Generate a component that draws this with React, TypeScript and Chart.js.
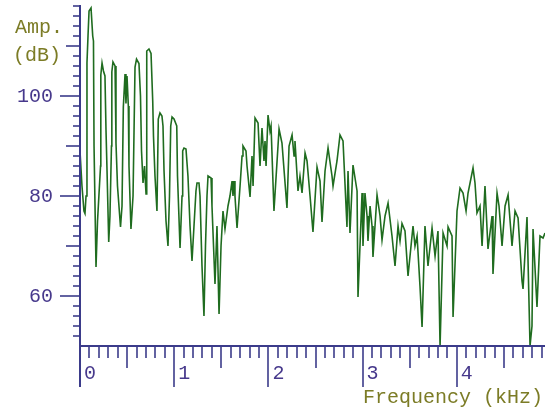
import React, { useEffect, useRef } from "react";
import { Chart, registerables } from "chart.js";

Chart.register(...registerables);

// Frequency (kHz) of each spectrum vertex
const freqKHz = [
  0, 0.021, 0.042, 0.053, 0.064, 0.074, 0.085, 0.096, 0.117, 0.135, 0.143, 0.149, 0.17, 0.186,
  0.218, 0.221, 0.234, 0.249, 0.265, 0.276, 0.287, 0.305, 0.318, 0.334, 0.338, 0.35, 0.372,
  0.382, 0.398, 0.43, 0.446, 0.46, 0.478, 0.488, 0.499, 0.513, 0.52, 0.541, 0.563, 0.584,
  0.6, 0.626, 0.642, 0.653, 0.669, 0.685, 0.701, 0.706, 0.711, 0.732, 0.754, 0.772, 0.78,
  0.796, 0.817, 0.831, 0.849, 0.87, 0.881, 0.892, 0.913, 0.934, 0.95, 0.963, 0.977, 0.998,
  1.027, 1.035, 1.062, 1.083, 1.09, 1.104, 1.125, 1.146, 1.168, 1.189, 1.21, 1.231, 1.242,
  1.263, 1.274, 1.295, 1.316, 1.332, 1.348, 1.359, 1.391, 1.401, 1.433, 1.454, 1.476, 1.497,
  1.518, 1.539, 1.571, 1.592, 1.614, 1.624, 1.635, 1.645, 1.667, 1.699, 1.72, 1.73, 1.762,
  1.773, 1.805, 1.826, 1.837, 1.858, 1.89, 1.911, 1.932, 1.953, 1.964, 1.975, 1.996, 2.017,
  2.028, 2.059, 2.113, 2.144, 2.197, 2.219, 2.251, 2.272, 2.282, 2.314, 2.335, 2.357, 2.389,
  2.41, 2.442, 2.473, 2.516, 2.548, 2.569, 2.601, 2.633, 2.675, 2.686, 2.728, 2.76, 2.792,
  2.834, 2.845, 2.866, 2.898, 2.941, 2.951, 2.994, 3.004, 3.025, 3.047, 3.057, 3.079, 3.1,
  3.11, 3.153, 3.185, 3.206, 3.238, 3.27, 3.312, 3.344, 3.376, 3.397, 3.418, 3.45, 3.482,
  3.535, 3.556, 3.578, 3.609, 3.631, 3.662, 3.694, 3.737, 3.769, 3.8, 3.822, 3.854, 3.896,
  3.907, 3.949, 3.96, 4.002, 4.034, 4.066, 4.098, 4.119, 4.172, 4.193, 4.214, 4.246, 4.268,
  4.299, 4.331, 4.374, 4.384, 4.427, 4.448, 4.48, 4.512, 4.544, 4.586, 4.618, 4.65, 4.692,
  4.703, 4.745, 4.777, 4.798, 4.809, 4.851, 4.883, 4.915, 4.936,
];

// Amplitude (dB) at each vertex
const ampDb = [
  89, 82, 77, 76.5, 80, 106.6, 112, 117, 117.6, 112, 111, 90, 65.8, 75,
  86, 104.2, 106.6, 105, 104, 93.2, 85, 70.8, 76, 90, 104.8, 106.8, 106,
  90.6, 82, 73.8, 78, 97.8, 104.4, 98.5, 104, 98, 86, 73.4, 80, 105.8,
  107.4, 106.5, 100, 89, 82.6, 86, 80.4, 96, 109, 109.4, 108.5, 99, 92,
  84, 77, 95.4, 96.6, 96, 94, 85, 75, 70, 80, 94, 95.8,
  95.4, 94, 84, 69.6, 80, 89, 89.6, 89.4, 84, 74, 67, 74, 81,
  82.6, 82.6, 80, 66, 56, 70, 80, 84, 83.6, 78, 62.4, 74, 56.4,
  70, 77, 73.4, 78, 80, 83, 80, 83, 80, 73.6, 82, 88, 90,
  89, 86, 79.8, 88, 82, 95.6, 94.6, 86, 93.6, 87, 91, 86, 96.2, 93,
  94, 77, 93.4, 90.6, 77.6, 90, 92.2, 88, 91, 81, 84, 80.6, 88.6,
  87, 80, 72.8, 85.8, 83, 74.8, 85, 89.6, 84, 82, 87, 92.2, 91,
  73.8, 85, 72.6, 86.2, 81, 59.8, 80.6, 70, 80.6, 76, 71, 78, 74,
  67.8, 80.2, 76, 71.2, 76, 78.6, 72, 66, 74, 71, 74.5, 73, 64,
  74, 70, 72, 62, 53.8, 74, 66, 73.6, 68, 73, 50, 72.6, 70,
  73.8, 72, 55.8, 77, 81.6, 80.6, 77, 80.6, 85.6, 82.6, 76.6, 78, 70,
  82, 69.4, 76, 64.4, 80.6, 78, 70, 78, 80.2, 70, 77, 75.6, 63,
  61.4, 75.8, 50, 54, 73.4, 57.8, 72, 71.6, 72.6,
];

const xRange = [0, 4.936];
const yRange = [50, 118.2];
const xMajorTicks = [0, 1, 2, 3, 4];
const xTickLabels = ["0", "1", "2", "3", "4"];
const yMajorTicks = [60, 80, 100];
const yTickLabels = ["60", "80", "100"];
const yAxisTitle = ["Amp.", "(dB)"];
const xAxisTitle = "Frequency (kHz)";

const AXIS_COLOR = "#3b3b8a";
const LABEL_COLOR = "#47398c";
const TITLE_COLOR = "#7c7c26";
const LINE_COLOR = "#1f6c1f";
const FONT = "20px 'Liberation Mono', 'DejaVu Sans Mono', monospace";

const axesPlugin = {
  id: "spectrumAxes",
  afterDraw(chart: any) {
    const { ctx, chartArea } = chart;
    const xs = chart.scales.x;
    const ys = chart.scales.y;
    const x0 = Math.round(xs.getPixelForValue(xRange[0]));
    const yb = Math.round(ys.getPixelForValue(yRange[0]));
    ctx.save();
    ctx.strokeStyle = AXIS_COLOR;
    ctx.lineCap = "butt";

    // y minor / medium / major ticks
    ctx.lineWidth = 1.6;
    for (let v = yRange[0] + 2; v <= yRange[1]; v += 2) {
      const y = Math.round(ys.getPixelForValue(v));
      const len = v % 20 === 0 ? 20 : v % 10 === 0 ? 14 : 7;
      ctx.beginPath();
      ctx.moveTo(x0 - len, y);
      ctx.lineTo(x0, y);
      ctx.stroke();
    }
    // x minor / medium / major ticks
    for (let i = 1; i / 10 <= xRange[1]; i++) {
      const x = Math.round(xs.getPixelForValue(i / 10));
      const len = i % 10 === 0 ? 41 : i % 5 === 0 ? 22 : 12;
      ctx.beginPath();
      ctx.moveTo(x, yb);
      ctx.lineTo(x, yb + len);
      ctx.stroke();
    }

    // axis lines
    ctx.lineWidth = 2;
    ctx.beginPath();
    ctx.moveTo(x0, chartArea.top);
    ctx.lineTo(x0, yb + 41);
    ctx.stroke();
    ctx.beginPath();
    ctx.moveTo(x0, yb);
    ctx.lineTo(chartArea.right, yb);
    ctx.stroke();

    // tick labels
    ctx.font = FONT;
    ctx.fillStyle = LABEL_COLOR;
    ctx.textBaseline = "middle";
    ctx.textAlign = "right";
    yMajorTicks.forEach((v, i) => {
      ctx.fillText(yTickLabels[i], x0 - 27, ys.getPixelForValue(v) + 1);
    });
    ctx.textAlign = "left";
    xMajorTicks.forEach((v, i) => {
      ctx.fillText(xTickLabels[i], xs.getPixelForValue(v) + 4, yb + 28);
    });

    // axis titles
    ctx.fillStyle = TITLE_COLOR;
    ctx.textAlign = "right";
    ctx.fillText(yAxisTitle[0], x0 - 17, 28);
    ctx.fillText(yAxisTitle[1], x0 - 19, 56);
    ctx.fillText(xAxisTitle, chartArea.right - 2, yb + 52);
    ctx.restore();
  },
};

export default function App() {
  const canvasRef = useRef<HTMLCanvasElement | null>(null);

  useEffect(() => {
    if (!canvasRef.current) return;
    const chart = new Chart(canvasRef.current, {
      type: "line",
      data: {
        datasets: [
          {
            data: freqKHz.map((f, i) => ({ x: f, y: ampDb[i] })),
            borderColor: LINE_COLOR,
            borderWidth: 1.6,
            pointRadius: 0,
            tension: 0,
            fill: false,
          },
        ],
      },
      options: {
        animation: false,
        responsive: false,
        devicePixelRatio: 1,
        layout: { padding: { left: 80, right: 0, top: 5, bottom: 65 } },
        plugins: { legend: { display: false }, tooltip: { enabled: false } },
        scales: {
          x: { type: "linear", min: xRange[0], max: xRange[1], display: false },
          y: { type: "linear", min: yRange[0], max: yRange[1], display: false },
        },
      },
      plugins: [axesPlugin],
    });
    return () => chart.destroy();
  }, []);

  return (
    <div style={{ position: "absolute", left: 0, top: 0, width: 545, height: 411, background: "#fff" }}>
      <canvas ref={canvasRef} width={545} height={411} style={{ display: "block" }} />
    </div>
  );
}
